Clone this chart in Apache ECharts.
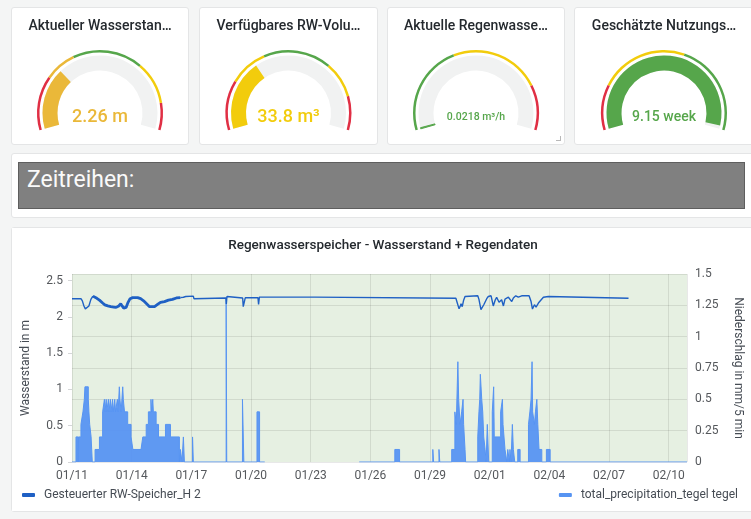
<!DOCTYPE html>
<html>
<head>
<meta charset="utf-8">
<title>Regenwasserspeicher</title>
<script src="https://cdn.jsdelivr.net/npm/echarts@6/dist/echarts.min.js"></script>
<style>
    body { margin: 0; width: 751px; height: 519px; overflow: hidden; background: #f4f5f5; font-family: Roboto, sans-serif; position: relative; }
    .panel { position: absolute; background: #fff; border: 1px solid #e4e5e6; border-radius: 3px; box-sizing: border-box; }
    .chart { position: absolute; left: 0; top: 0; right: 0; bottom: 0; }
    .textbox { position: absolute; left: 6px; top: 8px; width: 727px; height: 47px; background: #808080; border: 1px solid #5e5e5e; box-sizing: border-box; }
    .textbox span { position: absolute; left: 8px; top: 3px; font-size: 23px; line-height: 28px; color: #fafafa; }
    .corner { position: absolute; right: 3px; bottom: 3px; width: 4px; height: 4px; border-right: 1px solid #b8b8b8; border-bottom: 1px solid #b8b8b8; }
</style>
</head>
<body>
<div class="panel" style="left:11px;top:7px;width:178px;height:138px;"><div class="chart" id="gauge0"></div></div>
<div class="panel" style="left:199px;top:7px;width:179px;height:138px;"><div class="chart" id="gauge1"></div></div>
<div class="panel" style="left:387px;top:7px;width:178px;height:138px;"><div class="chart" id="gauge2"></div><div class="corner"></div></div>
<div class="panel" style="left:574px;top:7px;width:180px;height:138px;"><div class="chart" id="gauge3"></div></div>
<div class="panel" style="left:11px;top:153px;width:744px;height:65px;"><div class="textbox"><span>Zeitreihen:</span></div></div>
<div class="panel" style="left:11px;top:227px;width:744px;height:285px;"><div class="chart" id="mainChart"></div></div>
<script>
    // Gauges
    var gaugeTitles = ['Aktueller Wasserstan…', 'Verfügbares RW-Volu…', 'Aktuelle Regenwasse…', 'Geschätzte Nutzungs…'];
    var gaugeValues = [2.26, 33.8, 0.0218, 9.15];
    var gaugeUnits = ['m', 'm³', 'm³/h', 'week'];
    var gaugeMin = [2, 0, 0, 0];
    var gaugeMax = [2.88, 100, 4, 9.3];
    var gaugeColors = ['#eab839', '#f2cc0c', '#56a64b', '#56a64b'];
    var gaugeFontSize = [18, 18, 10.5, 14];
    var gaugeSteps = [
        [[0.24, '#e02f44'], [0.38, '#eab839'], [0.69, '#56a64b'], [0.88, '#f2cc0c'], [1, '#e02f44']],
        [[0.22, '#e02f44'], [0.39, '#f2cc0c'], [0.69, '#56a64b'], [0.85, '#f2cc0c'], [1, '#e02f44']],
        [[0.40, '#56a64b'], [0.80, '#f2cc0c'], [1, '#e02f44']],
        [[0.20, '#e02f44'], [0.59, '#f2cc0c'], [1, '#56a64b']]
    ];

    // Zeitreihe: x = Tage seit 01/11 00:00
    var xMax = 30.92;
    var dayTicks = 3;
    var levelMain = [
        [0, 2.25], [0.45, 2.25], [0.52, 2.22], [0.60, 2.15], [0.67, 2.11], [0.75, 2.10], [0.85, 2.15],
        [0.95, 2.24], [1.05, 2.285], [1.06, null],
        [5.45, 2.265], [5.50, 2.28], [5.60, 2.27], [5.66, 2.245], [5.72, 2.28], [6.10, 2.285], [6.13, 2.25],
        [6.16, 2.272], [7.74, 2.26], [7.76, 2.176], [7.79, 2.28], [7.82, 2.26], [8.58, 2.26], [8.61, 2.14],
        [8.68, 2.14], [8.71, 2.262], [9.35, 2.262], [9.38, 2.17], [9.42, 2.272], [12.2, 2.272], [12.25, 2.255],
        [19.30, 2.255], [19.36, 2.2], [19.46, 2.11], [19.52, 2.15], [19.56, 2.18], [19.62, 2.14], [19.69, 2.23],
        [19.76, 2.28], [19.85, 2.29], [20.40, 2.29], [20.46, 2.24], [20.56, 2.10], [20.63, 2.075], [20.71, 2.17],
        [20.85, 2.25], [20.93, 2.28], [21.07, 2.29], [21.18, 2.15], [21.27, 2.226], [21.35, 2.27], [21.47, 2.20],
        [21.60, 2.236], [21.69, 2.15], [21.77, 2.245], [21.94, 2.27], [22.11, 2.21], [22.19, 2.26], [22.31, 2.29],
        [22.44, 2.27], [22.61, 2.29], [22.98, 2.29], [23.08, 2.21], [23.15, 2.107], [23.25, 2.167], [23.33, 2.135],
        [23.45, 2.19], [23.59, 2.236], [23.70, 2.27], [23.95, 2.28], [24.00, 2.255], [27.98, 2.255]
    ];
    var levelRough = [
        [1.05, 2.285], [1.12, 2.27], [1.25, 2.255], [1.38, 2.23], [1.54, 2.19], [1.65, 2.165], [1.80, 2.15],
        [1.95, 2.14], [2.10, 2.135], [2.22, 2.13], [2.35, 2.15], [2.45, 2.18], [2.52, 2.15], [2.60, 2.12],
        [2.72, 2.13], [2.82, 2.2], [2.92, 2.25], [3.05, 2.265], [3.30, 2.265], [3.45, 2.25], [3.60, 2.22],
        [3.75, 2.18], [3.90, 2.14], [4.0, 2.13], [4.15, 2.14], [4.30, 2.17], [4.45, 2.2], [4.65, 2.21],
        [4.85, 2.23], [5.05, 2.24], [5.25, 2.26], [5.45, 2.265]
    ];
    var precipitation = [
        [0, 0], [0.20, 0.2], [0.31, 0], [0.33, 0.2], [0.45, 0.3], [0.55, 0.4], [0.62, 0.5], [0.65, 0.6],
        [0.82, 0.5], [0.85, 0.4], [0.89, 0.3], [0.96, 0.2], [1.02, 0], [1.16, 0.1], [1.38, 0.2], [1.54, 0.4],
        [1.63, 0.5], [1.66, 0.4], [1.72, 0.5], [1.75, 0.4], [1.83, 0.5], [1.86, 0.4], [1.93, 0.5], [1.96, 0.4],
        [2.04, 0.5], [2.07, 0.4], [2.15, 0.5], [2.19, 0.4], [2.28, 0.5], [2.32, 0.4], [2.38, 0.6], [2.41, 0.5],
        [2.47, 0.4], [2.55, 0.6], [2.58, 0.5], [2.64, 0.4], [2.80, 0.3], [2.97, 0.2], [3.06, 0.1], [3.47, 0.1],
        [3.56, 0.2], [3.73, 0.3], [3.84, 0.4], [3.97, 0.5], [4.00, 0.4], [4.06, 0.5], [4.09, 0.4], [4.23, 0.3],
        [4.35, 0.2], [4.70, 0.3], [4.95, 0.2], [5.40, 0],
        [5.45, 0.1], [5.53, 0], [5.60, 0.2], [5.65, 0], [6.06, 0.2], [6.10, 0], [7.75, 1.3], [7.78, 0],
        [8.57, 0.5], [8.64, 0], [9.30, 0.4], [9.43, 0], [9.69, 0], [9.70, null],
        [14.44, 0], [16.23, 0.1], [16.47, 0], [18.14, 0.1], [18.18, 0], [18.45, 0.1], [18.49, 0],
        [19.09, 0.1], [19.25, 0.4], [19.32, 0.3], [19.40, 0.8], [19.44, 0.5], [19.51, 0.3], [19.59, 0.4],
        [19.66, 0.5], [19.69, 0.3], [19.76, 0.1], [19.79, 0], [20.40, 0.2], [20.46, 0.4], [20.50, 0.5],
        [20.53, 0.7], [20.60, 0.5], [20.65, 0.4], [20.70, 0.2], [20.77, 0.1], [20.82, 0], [20.88, 0.3],
        [20.95, 0], [21.13, 0.4], [21.20, 0.6], [21.23, 0.2], [21.55, 0.4], [21.64, 0.5], [21.67, 0.3],
        [21.77, 0.1], [21.86, 0], [21.91, 0.1], [21.99, 0], [22.02, 0.1], [22.07, 0], [22.14, 0.3],
        [22.19, 0.1], [22.26, 0], [22.41, 0.1], [22.53, 0], [22.95, 0.3], [23.02, 0.4], [23.08, 0.5],
        [23.13, 0.8], [23.16, 0.4], [23.25, 0.3], [23.30, 0.4], [23.37, 0.5], [23.42, 0.3], [23.48, 0.1],
        [23.62, 0], [23.85, 0.1], [24.04, 0], [30.92, 0]
    ];

    var levelName = 'Gesteuerter RW-Speicher_H 2';
    var rainName = 'total_precipitation_tegel tegel';
    var baseDay = Date.UTC(2024, 0, 11);

    function dayLabel(v) {
        var d = new Date(baseDay + v * 86400000);
        var m = d.getUTCMonth() + 1, dd = d.getUTCDate();
        return (m < 10 ? '0' : '') + m + '/' + (dd < 10 ? '0' : '') + dd;
    }

    var gauges = [];
    for (var i = 0; i < 4; i++) {
        (function (i) {
            var g = echarts.init(document.getElementById('gauge' + i));
            var hidden = {
                axisTick: { show: false }, splitLine: { show: false }, axisLabel: { show: false },
                pointer: { show: false }, anchor: { show: false }, title: { show: false }
            };
            g.setOption({
                animation: false,
                title: {
                    text: gaugeTitles[i], left: 'center', top: 6,
                    textStyle: { fontSize: 14, fontWeight: 500, color: '#24292e', fontFamily: 'Roboto' }
                },
                series: [
                    Object.assign({
                        type: 'gauge', startAngle: 196, endAngle: -16, center: ['50%', 105], radius: 63,
                        min: 0, max: 1,
                        axisLine: { lineStyle: { width: 2.5, color: gaugeSteps[i] } },
                        detail: { show: false },
                        data: [{ value: 0 }]
                    }, hidden),
                    Object.assign({
                        type: 'gauge', startAngle: 196, endAngle: -16, center: ['50%', 105], radius: 57.5,
                        min: gaugeMin[i], max: gaugeMax[i],
                        axisLine: { lineStyle: { width: 15, color: [[1, '#f1f2f2']] } },
                        progress: {
                            show: true, width: 15,
                            itemStyle: { color: gaugeColors[i], borderColor: gaugeColors[i], borderWidth: i == 2 ? 1 : 0 }
                        },
                        detail: {
                            offsetCenter: [0, 4], fontSize: gaugeFontSize[i], fontWeight: 500,
                            color: gaugeColors[i], fontFamily: 'Roboto',
                            formatter: function (v) { return v + ' ' + gaugeUnits[i]; }
                        },
                        data: [{ value: gaugeValues[i] }]
                    }, hidden)
                ]
            });
            gauges.push(g);
        })(i);
    }

    var myChart = echarts.init(document.getElementById('mainChart'));
    var labelStyle = { color: '#55585c', fontSize: 12, fontFamily: 'Roboto' };
    var option = {
        animation: false,
        backgroundColor: '#fff',
        title: {
            text: 'Regenwasserspeicher - Wasserstand + Regendaten',
            left: 'center',
            top: 6,
            textStyle: { fontSize: 13.5, fontWeight: 500, color: '#24292e', fontFamily: 'Roboto' }
        },
        legend: [
            {
                data: [levelName], left: 10, top: 261, padding: 0,
                icon: 'roundRect', itemWidth: 13, itemHeight: 4,
                textStyle: { color: '#464c54', fontSize: 12, fontFamily: 'Roboto', padding: [0, 0, 0, 4] }
            },
            {
                data: [rainName], right: 16, top: 261, padding: 0,
                icon: 'roundRect', itemWidth: 13, itemHeight: 4,
                textStyle: { color: '#464c54', fontSize: 12, fontFamily: 'Roboto', padding: [0, 0, 0, 4] }
            }
        ],
        grid: {
            left: 59, right: 67, top: 46, bottom: 49,
            show: true, backgroundColor: '#e6f0e2', borderWidth: 0
        },
        xAxis: {
            type: 'value', min: 0, max: xMax, interval: dayTicks,
            axisLine: { show: false },
            axisTick: { show: false },
            splitLine: { show: true, lineStyle: { color: 'rgba(0,0,0,0.09)' } },
            axisLabel: Object.assign({ formatter: dayLabel, margin: 8, showMaxLabel: false }, labelStyle)
        },
        yAxis: [
            {
                type: 'value', position: 'left', min: 0, max: 2.59, interval: 0.5,
                name: 'Wasserstand in m', nameLocation: 'middle', nameGap: 40,
                nameTextStyle: { color: '#464c54', fontSize: 12, fontFamily: 'Roboto' },
                axisLine: { show: false },
                axisTick: { show: true, length: 4, lineStyle: { color: '#d4d6d8' } },
                splitLine: { show: false },
                axisLabel: Object.assign({ margin: 9, showMaxLabel: false }, labelStyle)
            },
            {
                type: 'value', position: 'right', min: 0, max: 1.5, interval: 0.25,
                name: 'Niederschlag in mm/5 min', nameLocation: 'middle', nameGap: 45, nameRotate: -90,
                nameTextStyle: { color: '#464c54', fontSize: 12, fontFamily: 'Roboto' },
                axisLine: { show: false },
                axisTick: { show: false },
                splitLine: { show: true, lineStyle: { color: 'rgba(0,0,0,0.09)' } },
                axisLabel: Object.assign({ margin: 8 }, labelStyle)
            }
        ],
        series: [
            {
                name: rainName,
                type: 'line',
                yAxisIndex: 1,
                step: 'end',
                symbol: 'none',
                color: '#5794f2',
                lineStyle: { color: '#5794f2', width: 1 },
                areaStyle: { color: '#5794f2', opacity: 0.95 },
                data: precipitation
            },
            {
                name: levelName,
                type: 'line',
                yAxisIndex: 0,
                symbol: 'none',
                color: '#1f60c4',
                lineStyle: { color: '#1f60c4', width: 1.4 },
                data: levelMain
            },
            {
                name: levelName,
                type: 'line',
                yAxisIndex: 0,
                symbol: 'none',
                color: '#1f60c4',
                lineStyle: { color: '#1f60c4', width: 2.8 },
                data: levelRough
            }
        ]
    };
    myChart.setOption(option);

    window.onresize = function () {
        myChart.resize();
        for (var k = 0; k < gauges.length; k++) gauges[k].resize();
    };
</script>
</body>
</html>
